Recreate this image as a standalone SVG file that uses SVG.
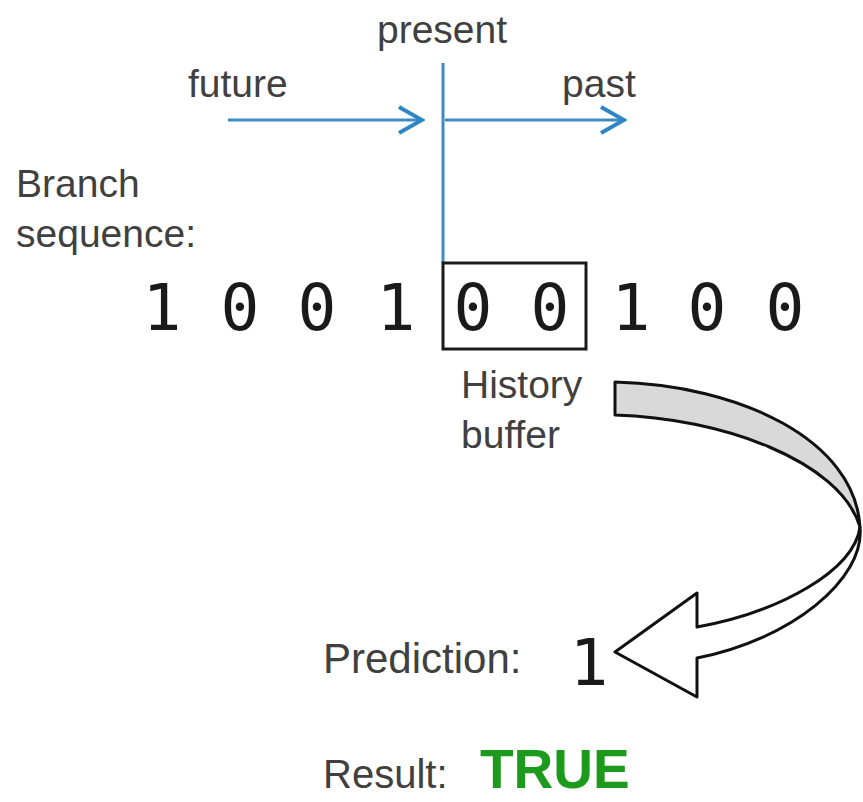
<svg xmlns="http://www.w3.org/2000/svg" width="863" height="802" viewBox="0 0 863 802">
<style>
.lbl{font-family:"Liberation Sans",Arial,sans-serif;fill:#404040;font-size:39px}
.mono{font-family:"DejaVu Sans Mono",monospace;fill:#1a1a1a;font-size:64.6px}
.blue{stroke:#3f8bc2;stroke-width:3;fill:none}
</style>
<defs>
<marker id="chev" viewBox="0 0 28 30" refX="26" refY="15" markerWidth="28" markerHeight="30" markerUnits="userSpaceOnUse" orient="auto">
<path d="M2,2 L25,15 L2,28" fill="none" stroke="#2f86c4" stroke-width="4"/>
</marker>
</defs>
<rect width="863" height="802" fill="#ffffff"/>
<g id="connectors">
<line class="blue" x1="443" y1="63" x2="443" y2="263" stroke="#6fa3c8"/>
<line class="blue" x1="228" y1="120" x2="423" y2="120" marker-end="url(#chev)"/>
<line class="blue" x1="445" y1="120" x2="625" y2="120" marker-end="url(#chev)"/>
</g>
<g id="time-labels">
<text class="lbl" x="442" y="43" text-anchor="middle">present</text>
<text class="lbl" x="188" y="97">future</text>
<text class="lbl" x="562" y="97">past</text>
</g>
<g id="branch-label">
<text class="lbl" x="16" y="197">Branch</text>
<text class="lbl" x="16" y="247">sequence:</text>
</g>
<g id="sequence">
<text class="mono" y="330" text-anchor="middle"><tspan x="162">1</tspan><tspan x="240">0</tspan><tspan x="317">0</tspan><tspan x="396">1</tspan><tspan x="473">0</tspan><tspan x="550">0</tspan><tspan x="631">1</tspan><tspan x="707">0</tspan><tspan x="785">0</tspan></text>
</g>
<g id="history-buffer">
<rect x="443" y="263" width="143" height="86" fill="none" stroke="#1a1a1a" stroke-width="3"/>
<text class="lbl" x="461" y="398">History</text>
<text class="lbl" x="461" y="448">buffer</text>
</g>
<g id="curved-arrow" stroke="#111" stroke-width="3" stroke-linejoin="round">
<path d="M615,382 C740,385 855,440 860,527 C840,460 720,418 615,415 Z" fill="#d9d9d9"/>
<path d="M860,527 C865,580 790,640 697,658 L697,697 L615,652 L697,593 L697,627 C780,612 855,570 860,527 Z" fill="#ffffff"/>
</g>
<g id="prediction">
<text class="lbl" x="323" y="673" style="font-size:42px">Prediction:</text>
<text class="mono" x="589" y="685" text-anchor="middle" style="font-size:64px">1</text>
</g>
<g id="result">
<text class="lbl" x="323" y="788" style="font-size:40px">Result:</text>
<text x="480" y="788" style="font-family:'Liberation Sans',Arial,sans-serif;font-weight:bold;font-size:55px;fill:#1c9a1c">TRUE</text>
</g>
</svg>
